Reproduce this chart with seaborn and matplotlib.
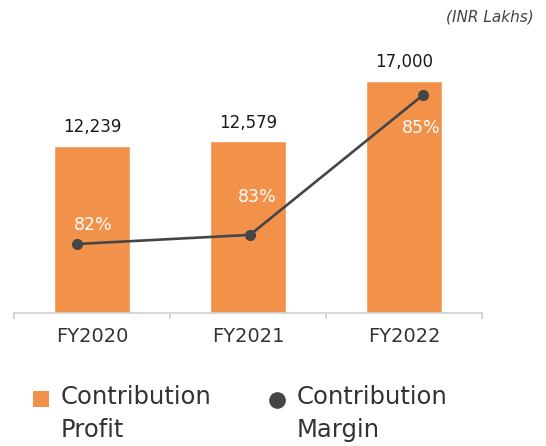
import matplotlib
matplotlib.use("Agg")
import matplotlib.pyplot as plt
from matplotlib.patches import Patch
from matplotlib.lines import Line2D
import seaborn as sns

# data
years = ["FY2020", "FY2021", "FY2022"]
profit = [12239, 12579, 17000]          # Contribution Profit, INR Lakhs
margin = [82.45, 82.6, 84.9]            # Contribution Margin, % (labels rounded)

bar_color = "#F2914A"
line_color = "#454545"

sns.set_theme(style="white")
plt.rcParams["font.family"] = ["DejaVu Sans"]

fig = plt.figure(figsize=(5.46, 4.46), dpi=100)
rect = [14 / 546, 133 / 446, 468 / 546, 273 / 446]
ax = fig.add_axes(rect)

sns.barplot(x=years, y=profit, color=bar_color, width=0.49, saturation=1, ax=ax)
ax.set_ylim(0, 20000)
ax.set_xlim(-0.5, 2.5)
ax.bar_label(ax.containers[0], labels=[f"{v:,}" for v in profit],
             padding=7, fontsize=12, color="#1a1a1a")

for s in ["top", "right", "left"]:
    ax.spines[s].set_visible(False)
ax.spines["bottom"].set_color("#d0d0d0")
ax.spines["bottom"].set_linewidth(1.2)
ax.set_yticks([])
ax.set_xticks([-0.5, 0.5, 1.5, 2.5], minor=True)
ax.tick_params(axis="x", which="major", length=0, labelsize=14,
               labelcolor="#333333", pad=10)
ax.tick_params(axis="x", which="minor", length=4, width=1.2,
               color="#d0d0d0", bottom=True)
ax.set_xlabel("")
ax.set_ylabel("")

# margin line on an overlay axes
ax2 = fig.add_axes(rect, facecolor="none")
xpos = [0, 1, 2]
sns.lineplot(x=xpos, y=margin, color=line_color, linewidth=1.9,
             marker="o", markersize=8, markeredgewidth=0, ax=ax2)
ax2.set_xlim(-0.364, 2.341)
ax2.set_ylim(81.315, 85.805)
ax2.axis("off")

offsets = [(12, 14), (5, 27), (-1, -24)]
for x, m, off in zip(xpos, margin, offsets):
    ax2.annotate(f"{m:.0f}%", (x, m), xytext=off, textcoords="offset points",
                 ha="center", va="center", color="white", fontsize=12.5)

fig.text(0.977, 0.962, "(INR Lakhs)", ha="right", va="center",
         style="italic", fontsize=11, color="#444444")

handles = [
    Patch(facecolor=bar_color, edgecolor="none"),
    Line2D([], [], color=line_color, marker="o", linestyle="none", markersize=11),
]
leg = fig.legend(handles, ["Contribution\nProfit", "Contribution\nMargin"],
                 loc="lower left", bbox_to_anchor=(0.02, -0.04), ncol=2,
                 frameon=False, fontsize=17.5, labelcolor="#333333",
                 handlelength=0.65, handleheight=0.65, handletextpad=0.5,
                 columnspacing=2.35, alignment="left")
for t in leg.get_texts():
    t.set_linespacing(1.45)
# put the markers level with the first text line
shift = 11
h0, h1 = leg.legend_handles
h0.set_y(h0.get_y() + shift)
h1.set_ydata([y + shift for y in h1.get_ydata()])

fig.savefig("out.png", dpi=100)
